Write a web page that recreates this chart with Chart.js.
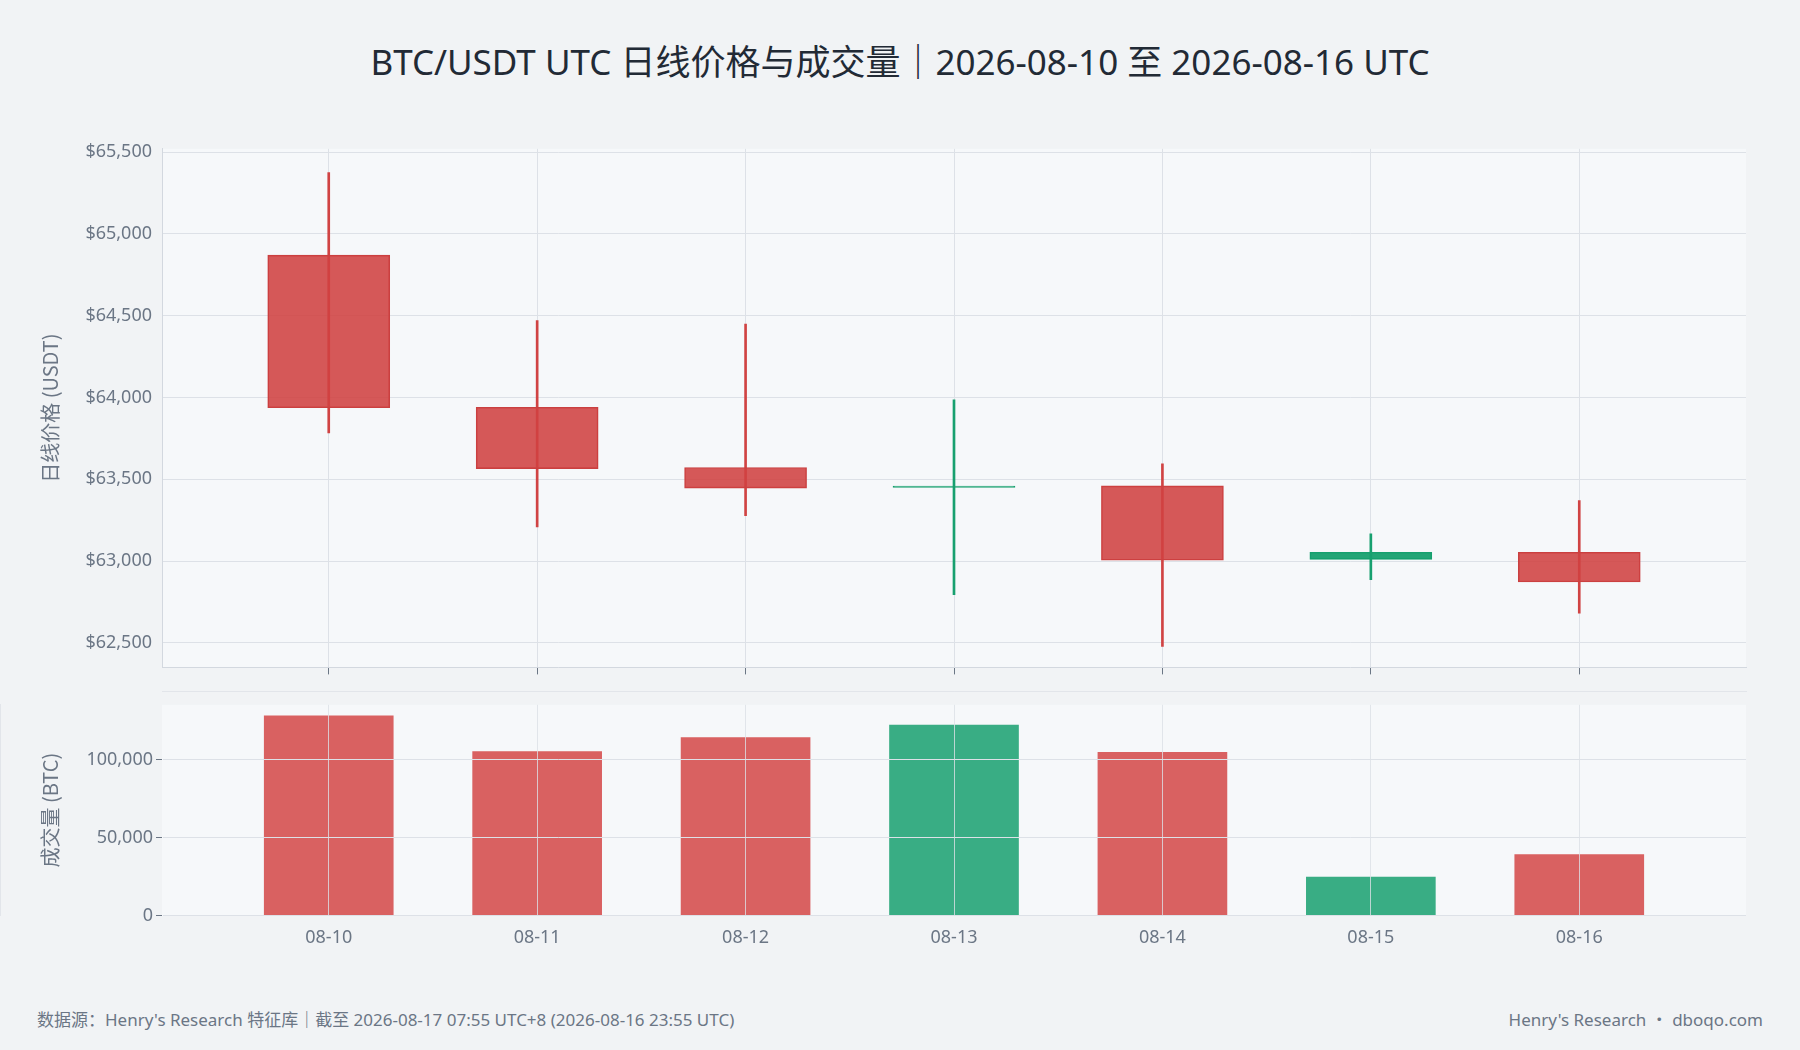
<!DOCTYPE html>
<html><head><meta charset="utf-8">
<script src="https://cdn.jsdelivr.net/npm/chart.js@4"></script>
<style>
body{margin:0;background:#f1f3f5;width:1800px;height:1050px;position:relative;overflow:hidden;font-family:"Noto Sans","Noto Sans CJK SC",sans-serif;}
#title{position:absolute;top:34px;left:0;width:1800px;text-align:center;font-size:35px;color:#222a35;}
.c{position:absolute;left:0;width:1800px;}
#foot1{position:absolute;left:37px;top:1006px;font-size:17px;color:#6b7685;}
#foot2{position:absolute;right:37px;top:1006px;font-size:17px;color:#6b7685;}
</style></head><body>
<div id="title">BTC/USDT UTC 日线价格与成交量｜2026-08-10 至 2026-08-16 UTC</div>
<div class="c" style="top:128px;height:574px"><canvas id="p"></canvas></div>
<div class="c" style="top:691px;height:270px"><canvas id="v"></canvas></div>
<div id="foot1">数据源：Henry's Research 特征库｜截至 2026-08-17 07:55 UTC+8 (2026-08-16 23:55 UTC)</div>
<div id="foot2">Henry's Research ・ dboqo.com</div>
<script>
const dates=["08-10","08-11","08-12","08-13","08-14","08-15","08-16"];
const opens=[64870,63940,63572,63450,63460,63010,63054];
const closes=[63937,63565,63446,63458,63005,63054,62872];
const highs=[65374,64470,64449,63986,63594,63166,63369];
const lows=[63783,63208,63278,62794,62479,62886,62682];
const volumes=[128000,105000,114000,122000,104500,24500,39000];
const priceTicks=[62500,63000,63500,64000,64500,65000,65500];

const up=dates.map((d,i)=>closes[i]>=opens[i]);
const bodyC=up.map(u=>u?'rgba(23,160,111,0.95)':'rgba(208,65,65,0.88)');
const bodyB=up.map(u=>u?'#17a06f':'#c94040');
const wickC=up.map(u=>u?'#17a06f':'#d04343');
const volC=up.map(u=>u?'rgba(23,160,111,0.85)':'rgba(213,75,75,0.88)');
const tickFont={family:'"Noto Sans","Noto Sans CJK SC",sans-serif',size:18};
const bgPlug={id:'bg',beforeDraw(c){const a=c.chartArea,x=c.ctx;x.save();x.fillStyle='#f6f8fa';x.fillRect(a.left,a.top,a.right-a.left,a.bottom-a.top);x.restore();}};
const fitL=s=>{s.width=162;};
const xTicks=s=>{s.ticks=dates.map((d,i)=>({value:i}));};
Chart.defaults.color='#6b7685';
const yTitle=t=>({display:true,text:t,font:{family:'"Noto Sans CJK SC",sans-serif',size:20},color:'#6b7685',padding:{top:38,bottom:0}});
new Chart(document.getElementById('p'),{type:'bar',plugins:[bgPlug],
data:{datasets:[
{data:dates.map((d,i)=>({x:i,y:[lows[i],highs[i]]})),backgroundColor:wickC,barThickness:2,grouped:false,order:2},
{data:dates.map((d,i)=>({x:i,y:[opens[i],closes[i]===opens[i]?closes[i]+8:closes[i]]})),backgroundColor:bodyC,borderColor:bodyB,borderWidth:1,borderSkipped:false,barThickness:122,grouped:false,order:1}
]},
options:{responsive:true,maintainAspectRatio:false,animation:false,
layout:{padding:{top:20,right:54,bottom:0,left:0}},
plugins:{legend:{display:false},tooltip:{enabled:false}},
scales:{
x:{type:'linear',min:-0.8,max:6.8,offset:false,afterBuildTicks:xTicks,grid:{offset:false,color:'#dde1e7',tickLength:7,tickColor:'#6b7685'},border:{color:'#d3d8df'},ticks:{display:true,color:'rgba(0,0,0,0)',font:tickFont,callback:v=>dates[v]}},
y:{min:62350,max:65520,afterFit:fitL,afterBuildTicks(s){s.ticks=priceTicks.map(v=>({value:v}));},
grid:{color:'#dde1e7',drawTicks:false},border:{color:'#d3d8df'},
ticks:{font:tickFont,color:'#6b7685',padding:10,callback:v=>'$'+v.toLocaleString('en-US')},
title:yTitle('日线价格 (USDT)')}
}}});
new Chart(document.getElementById('v'),{type:'bar',plugins:[bgPlug],
data:{datasets:[{data:dates.map((d,i)=>({x:i,y:volumes[i]})),backgroundColor:volC,barThickness:129}]},
options:{responsive:true,maintainAspectRatio:false,animation:false,
layout:{padding:{top:2,right:54,bottom:0,left:0}},
plugins:{legend:{display:false},tooltip:{enabled:false}},
scales:{
x:{type:'linear',min:-0.8,max:6.8,offset:false,afterBuildTicks:xTicks,grid:{offset:false,color:'rgba(220,224,230,0.8)',z:1,drawTicks:false},border:{color:'#d3d8df'},ticks:{font:tickFont,color:'#6b7685',padding:12,callback:v=>dates[v]}},
y:{min:0,max:135000,afterFit:fitL,afterBuildTicks(s){s.ticks=[0,50000,100000].map(v=>({value:v}));},
grid:{color:'#dde1e7',z:1,tickLength:6,tickColor:'#6b7685'},border:{color:'#d3d8df'},
ticks:{font:tickFont,color:'#6b7685',callback:v=>v.toLocaleString('en-US')},
title:yTitle('成交量 (BTC)')}
}}});
</script></body></html>
